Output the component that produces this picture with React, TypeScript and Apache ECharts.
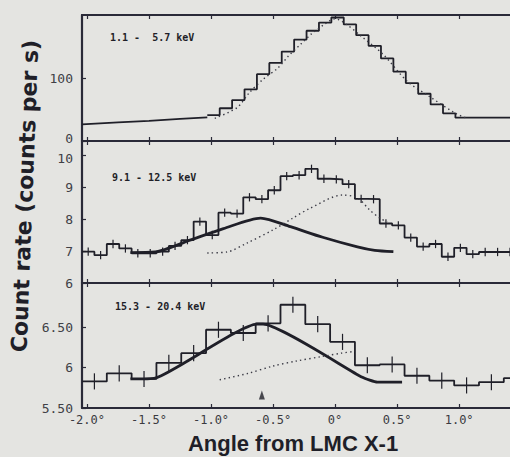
import React, { useEffect, useRef } from "react";
import * as echarts from "echarts";

// ---------- axes ----------
const X_MIN = -2.04;
const X_MAX = 1.41;
const xTickValues = [-2, -1.5, -1, -0.5, 0, 0.5, 1];
const xTickLabels = ["-2.0°", "-1.5°", "-1.0°", "-0.5°", "0°", "0.5°", "1.0°"];

const p1Range = [0, 200];
const p1TickValues = [0, 100];
const p1TickLabels = ["0", "100"];
const p2Range = [6, 10.44];
const p2TickValues = [6, 7, 8, 9, 10];
const p2TickLabels = ["6", "7", "8", "9", "10"];
const p3Range = [5.5, 7.05];
const p3TickValues = [5.5, 6, 6.5];
const p3TickLabels = ["5.50", "6", "6.50"];

const panelLabels = ["1.1 -  5.7 keV", "9.1 - 12.5 keV", "15.3 - 20.4 keV"];

// ---------- panel 1 : 1.1 - 5.7 keV ----------
const p1SmoothX = [-2.04, -1.75, -1.5, -1.25, -1.03];
const p1SmoothY = [26.5, 29.5, 32, 35, 37.5];
const p1BinStart = -1.03;
const p1BinWidth = 0.1;
const p1BinVals = [41, 52, 65, 82, 106, 124, 142, 161, 175, 188, 196, 185, 168, 151, 131, 110, 92, 75, 58, 44];
const p1TailVal = 37;
const p1DotX = [-0.97, -0.79, -0.69, -0.58, -0.46, -0.38, -0.27, -0.19, -0.08, 0.0, 0.1, 0.2, 0.39, 0.58, 0.75, 0.97, 1.05];
const p1DotY = [36, 53, 77, 98, 116, 134, 155, 170, 186, 194, 184, 168, 137, 95, 72, 44, 37];

// ---------- panel 2 : 9.1 - 12.5 keV ----------
const p2BinStart = -2.04;
const p2BinWidth = 0.1;
const p2BinVals = [6.98, 6.87, 7.22, 7.08, 6.93, 6.93, 6.98, 7.16, 7.34, 7.92, 7.5, 8.2, 8.17, 8.68, 8.62, 8.9, 9.34, 9.37, 9.57, 9.26, 9.24, 9.09, 8.63, 8.62, 7.86, 7.8, 7.42, 7.14, 7.22, 6.82, 7.1, 6.9, 6.97, 6.97, 6.97];
const p2Err = 0.13;
const p2SolidX = [-1.65, -1.45, -1.17, -0.9, -0.6, -0.36, -0.1, 0.18, 0.32, 0.47];
const p2SolidY = [6.95, 6.97, 7.34, 7.7, 8.03, 7.76, 7.43, 7.13, 7.02, 6.98];
const p2DotX = [-1.03, -0.87, -0.71, -0.5, -0.34, -0.2, 0.06, 0.18, 0.28, 0.36, 0.42];
const p2DotY = [6.94, 6.97, 7.25, 7.66, 8.03, 8.34, 8.75, 8.66, 8.28, 8.03, 7.9];

// ---------- panel 3 : 15.3 - 20.4 keV ----------
const p3BinStart = -2.04;
const p3BinWidth = 0.2;
const p3BinVals = [5.83, 5.93, 5.86, 6.06, 6.18, 6.47, 6.43, 6.55, 6.78, 6.54, 6.32, 6.03, 6.04, 5.9, 5.84, 5.78, 5.82, 5.87];
const p3Err = 0.1;
const p3SolidX = [-1.65, -1.45, -0.63, -0.58, 0.22, 0.34, 0.54];
const p3SolidY = [5.86, 5.87, 6.54, 6.54, 5.88, 5.82, 5.82];
const p3DotX = [-0.93, -0.7, -0.5, -0.32, -0.1, 0.05, 0.15];
const p3DotY = [5.85, 5.93, 6.02, 6.08, 6.14, 6.18, 6.2];
const p3Arrow = [-0.59, 5.66];

const INK = "#1f1f28";
const FRAME = "#2a2a38";
const BG = "#e4e4e1";
const LABEL = "#404046";

function stepData(start: number, width: number, vals: number[]) {
  const d: number[][] = vals.map((v, i) => [start + i * width, v]);
  d.push([start + vals.length * width, vals[vals.length - 1]]);
  return d;
}
function centers(start: number, width: number, vals: number[], err: number) {
  return vals.map((v, i) => [start + (i + 0.5) * width, v, err]);
}
function pairs(xs: number[], ys: number[]) {
  return xs.map((x, i) => [x, ys[i]]);
}

const errRender = (params: any, api: any) => {
  const x = api.value(0);
  const y = api.value(1);
  const e = api.value(2);
  const a = api.coord([x, y - e]);
  const b = api.coord([x, y + e]);
  return {
    type: "line",
    shape: { x1: a[0], y1: a[1], x2: b[0], y2: b[1] },
    style: { stroke: INK, lineWidth: 1.2 },
  };
};

const labelFont = { fontFamily: "DejaVu Sans Mono", fontSize: 13, color: LABEL };

export default function App() {
  const ref = useRef<HTMLDivElement>(null);
  useEffect(() => {
    document.body.style.margin = "0";
    document.body.style.background = BG;
    const chart = echarts.init(ref.current!, undefined, { renderer: "svg" });

    const grids = [
      { left: 82, top: 15, width: 428, height: 126 },
      { left: 82, top: 141, width: 428, height: 142 },
      { left: 82, top: 283, width: 428, height: 125 },
    ].map((g) => ({ ...g, show: false }));

    const mkX = (gi: number, pos: "top" | "bottom", labels: boolean) => ({
      type: "value",
      gridIndex: gi,
      position: pos,
      min: X_MIN,
      max: X_MAX,
      axisLine: { show: true, onZero: false, lineStyle: { color: FRAME, width: 2.2 } },
      splitLine: { show: false },
      axisTick: {
        show: true,
        inside: true,
        length: 4,
        customValues: xTickValues,
        lineStyle: { color: FRAME, width: 1.2 },
      },
      axisLabel: {
        show: labels,
        customValues: xTickValues,
        formatter: (v: number) => {
          const i = xTickValues.findIndex((t) => Math.abs(t - v) < 1e-6);
          return i >= 0 ? xTickLabels[i] : "";
        },
        margin: 6,
        color: "#3a3a40",
        fontFamily: "DejaVu Sans Mono",
        fontSize: 12,
      },
    });

    // shift: value -> "up" | "dn" to nudge labels that sit on a shared panel border
    const mkY = (gi: number, range: number[], vals: number[], labs: string[], shift: Record<string, string> = {}) => ({
      type: "value",
      gridIndex: gi,
      min: range[0],
      max: range[1],
      axisLine: { show: true, onZero: false, lineStyle: { color: FRAME, width: 2.2 } },
      splitLine: { show: false },
      axisTick: {
        show: true,
        inside: true,
        length: 4,
        customValues: vals,
        lineStyle: { color: FRAME, width: 1.2 },
      },
      axisLabel: {
        show: true,
        customValues: vals,
        formatter: (v: number) => {
          const i = vals.findIndex((t) => Math.abs(t - v) < 1e-6);
          if (i < 0) return "";
          const s = shift[labs[i]];
          return s ? `{${s}|${labs[i]}}` : labs[i];
        },
        margin: 9,
        ...labelFont,
        lineHeight: 13,
        rich: {
          up: { ...labelFont, lineHeight: 13, padding: [0, 0, 6, 0] },
          dn: { ...labelFont, lineHeight: 13, padding: [6, 0, 0, 0] },
        },
      },
    });

    const solid = (xi: number, data: number[][], w: number, smooth: any = false) => ({
      type: "line",
      xAxisIndex: xi,
      yAxisIndex: xi,
      data,
      smooth,
      symbol: "none",
      lineStyle: { color: INK, width: w },
      silent: true,
    });
    const step = (xi: number, data: number[][]) => ({
      type: "line",
      xAxisIndex: xi,
      yAxisIndex: xi,
      data,
      step: "end",
      symbol: "none",
      lineStyle: { color: INK, width: 1.8 },
      silent: true,
    });
    const dotted = (xi: number, data: number[][]) => ({
      type: "line",
      xAxisIndex: xi,
      yAxisIndex: xi,
      data,
      smooth: 0.3,
      symbol: "none",
      lineStyle: { color: "#3a3a45", width: 1.4, type: [1.4, 3.2] },
      silent: true,
    });
    const errs = (xi: number, data: number[][]) => ({
      type: "custom",
      xAxisIndex: xi,
      yAxisIndex: xi,
      data,
      renderItem: errRender,
      clip: true,
      silent: true,
    });

    const p1Step = stepData(p1BinStart, p1BinWidth, p1BinVals);
    const p1End = p1BinStart + p1BinVals.length * p1BinWidth;
    p1Step[p1Step.length - 1] = [p1End, p1TailVal];
    p1Step.push([X_MAX, p1TailVal]);

    const option = {
      animation: false,
      backgroundColor: BG,
      grid: grids,
      xAxis: [mkX(0, "bottom", false), mkX(1, "bottom", false), mkX(2, "bottom", true), mkX(0, "top", false), mkX(1, "top", false), mkX(2, "top", false)],
      yAxis: [
        mkY(0, p1Range, p1TickValues, p1TickLabels, { "0": "up" }),
        mkY(1, p2Range, p2TickValues, p2TickLabels, { "10": "dn" }),
        mkY(2, p3Range, p3TickValues, p3TickLabels),
      ],
      series: [
        solid(0, pairs(p1SmoothX, p1SmoothY), 1.8, true),
        step(0, p1Step),
        dotted(0, pairs(p1DotX, p1DotY)),
        step(1, stepData(p2BinStart, p2BinWidth, p2BinVals)),
        errs(1, centers(p2BinStart, p2BinWidth, p2BinVals, p2Err)),
        solid(1, pairs(p2SolidX, p2SolidY), 2.8, 0.25),
        dotted(1, pairs(p2DotX, p2DotY)),
        step(2, stepData(p3BinStart, p3BinWidth, p3BinVals)),
        errs(2, centers(p3BinStart, p3BinWidth, p3BinVals, p3Err)),
        solid(2, pairs(p3SolidX, p3SolidY), 2.8, 0.15),
        dotted(2, pairs(p3DotX, p3DotY)),
        {
          type: "scatter",
          xAxisIndex: 2,
          yAxisIndex: 2,
          data: [p3Arrow],
          symbol: "triangle",
          symbolSize: [6, 9],
          itemStyle: { color: INK },
          silent: true,
        },
      ],
      graphic: [
        { type: "text", x: 110, y: 37, style: { text: panelLabels[0], font: 'bold 10px "DejaVu Sans Mono"', fill: INK, textVerticalAlign: "middle" } },
        { type: "text", x: 112, y: 177, style: { text: panelLabels[1], font: 'bold 10px "DejaVu Sans Mono"', fill: INK, textVerticalAlign: "middle" } },
        { type: "text", x: 115, y: 306, style: { text: panelLabels[2], font: 'bold 10px "DejaVu Sans Mono"', fill: INK, textVerticalAlign: "middle" } },
        {
          type: "text",
          x: 25,
          y: 196,
          rotation: ((90 - 2.2) * Math.PI) / 180,
          style: { text: "Count rate (counts per s)", font: 'bold 22px "DejaVu Sans"', fill: INK, textAlign: "center", textVerticalAlign: "middle" },
        },
        {
          type: "text",
          x: 293,
          y: 443,
          style: { text: "Angle from LMC X-1", font: 'bold 22px "Liberation Sans"', fill: INK, textAlign: "center", textVerticalAlign: "middle" },
        },
      ],
    };
    chart.setOption(option as any);
    return () => chart.dispose();
  }, []);
  return <div ref={ref} style={{ position: "absolute", left: 0, top: 0, width: 510, height: 457 }} />;
}
